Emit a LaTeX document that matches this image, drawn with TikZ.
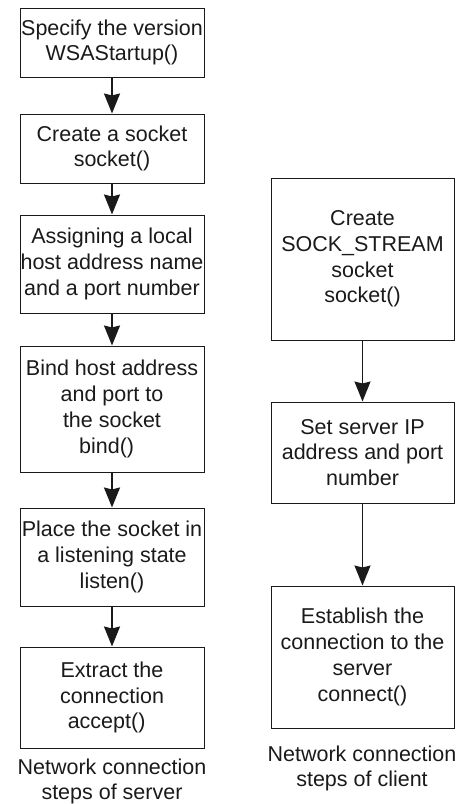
\documentclass[tikz,border=0pt]{standalone}
\usepackage{fontspec}
\setmainfont{Liberation Sans}
\usetikzlibrary{arrows.meta}
\definecolor{ink}{HTML}{1A1A1A}
\begin{document}
\begin{tikzpicture}[x=1pt,y=-1pt,
  every node/.style={text=ink, font=\fontsize{21.5}{25.8}\selectfont, align=center},
  stepbox/.style={draw=ink, line width=1pt, inner sep=0pt},
  lbox/.style={stepbox, minimum width=184pt},
  rbox/.style={stepbox, minimum width=183pt},
  flow/.style={draw=ink, -{Stealth[length=20pt, width=16pt, inset=2pt]}},
  lflow/.style={flow, line width=1.8pt},
  rflow/.style={flow, line width=1.4pt}]
\useasboundingbox (0,0) rectangle (461,804);

% server column
\node[lbox, minimum height=69pt]  (s1) at (112,42.5)  {Specify the version\\WSAStartup()};
\node[lbox, minimum height=69pt]  (s2) at (112,148.5) {Create a socket\\socket()};
\node[lbox, minimum height=98pt]  (s3) at (112,264)   {Assigning a local\\host address name\\and a port number};
\node[lbox, minimum height=126pt] (s4) at (112,409)   {Bind host address\\and port to\\the socket\\bind()\hspace*{0.5em}};
\node[lbox, minimum height=98pt]  (s5) at (112,557)   {Place the socket in\\a listening state\\listen()};
\node[lbox, minimum height=101pt] (s6) at (112,697.5) {Extract the\\connection\\accept()\hspace*{0.5em}};
\node (scap) at (112,781.5) {Network connection\\steps of server};

\draw[lflow] (s1) -- (s2);
\draw[lflow] (s2) -- (s3);
\draw[lflow] (s3) -- (s4);
\draw[lflow] (s4) -- (s5);
\draw[lflow] (s5) -- (s6);

% client column
\node[rbox, minimum height=162pt] (c1) at (362.5,259)   {Create\\SOCK\_STREAM\\socket\\socket()};
\node[rbox, minimum height=101pt] (c2) at (362.5,452.5) {Set server IP\\address and port\\number};
\node[rbox, minimum height=142pt] (c3) at (362.5,657)   {Establish the\\connection to the\\server\\connect()};
\node (ccap) at (362,768.5) {Network connection\\steps of client};

\draw[rflow] (c1) -- (c2);
\draw[rflow] (c2) -- (c3);
\end{tikzpicture}
\end{document}
